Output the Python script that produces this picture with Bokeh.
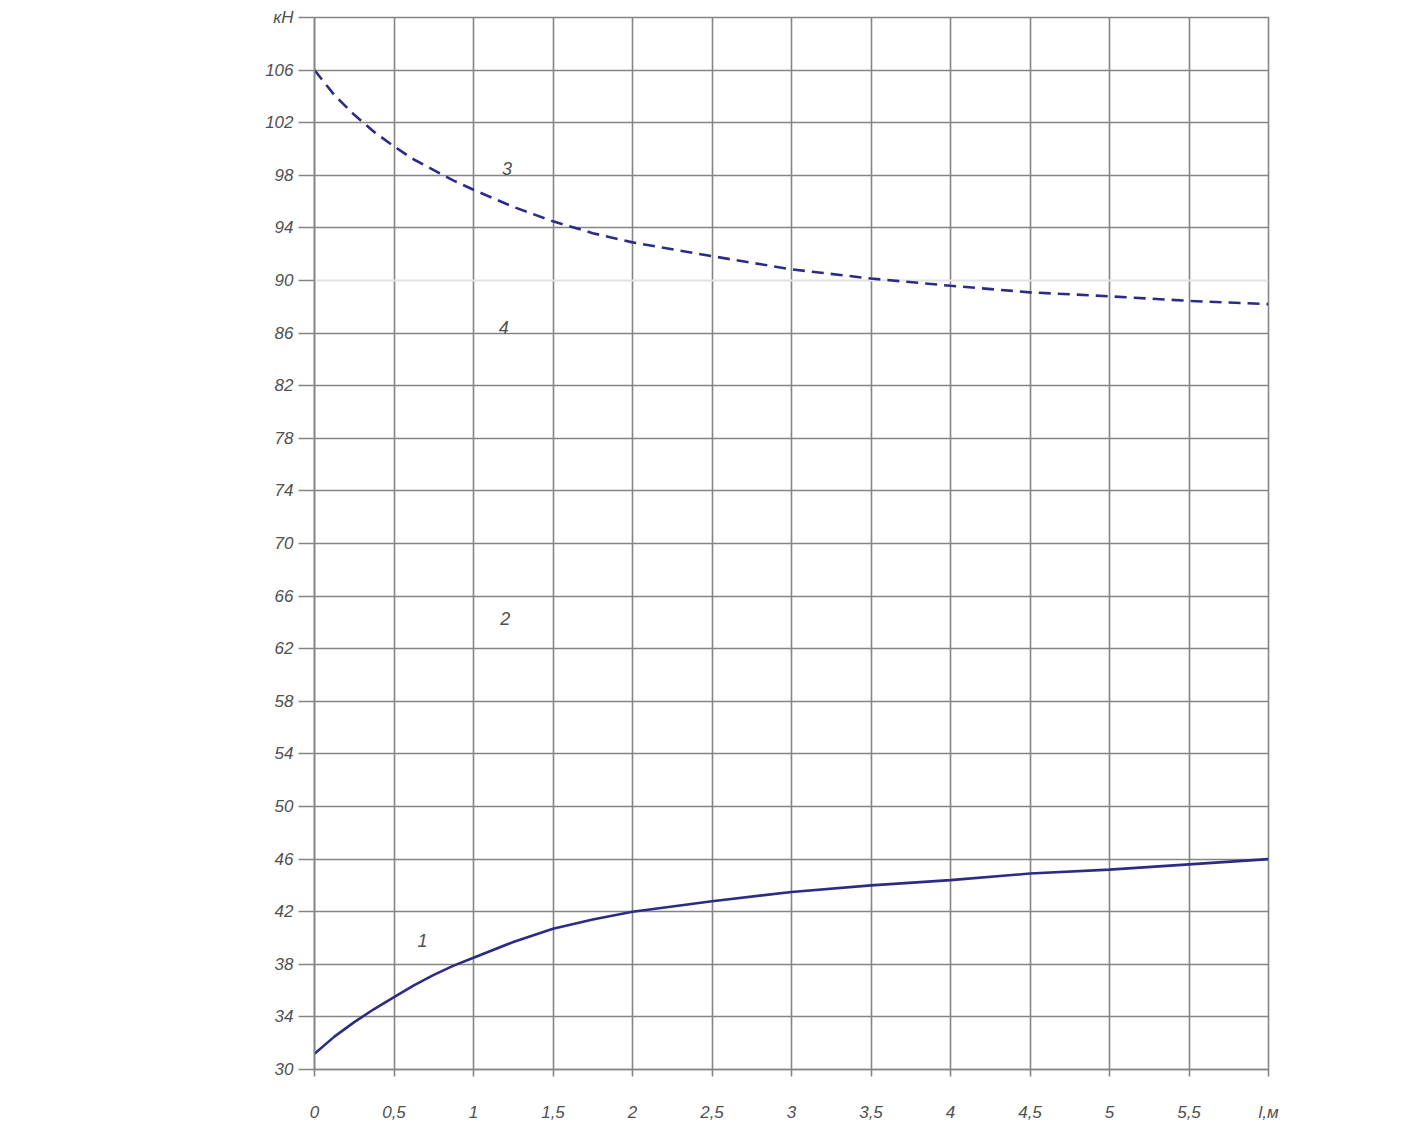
from bokeh.plotting import figure
from bokeh.models import Range1d, FixedTicker, Grid, Label
from bokeh.embed import file_html
from bokeh.resources import INLINE

# ---- data ----
x_vals = [0, 0.125, 0.25, 0.375, 0.5, 0.625, 0.75, 0.875, 1, 1.25, 1.5, 1.75, 2,
          2.5, 3, 3.5, 4, 4.5, 5, 5.5, 6]
curve1 = [31.2, 32.5, 33.6, 34.6, 35.5, 36.4, 37.2, 37.9, 38.5, 39.7, 40.7, 41.4, 42.0,
          42.8, 43.5, 44.0, 44.4, 44.9, 45.2, 45.6, 46.0]
curve3 = [106.0, 104.1, 102.6, 101.3, 100.2, 99.2, 98.4, 97.6, 96.9, 95.6, 94.5, 93.6, 92.9,
          91.85, 90.85, 90.15, 89.6, 89.1, 88.8, 88.45, 88.2]

x_ticks = [0, 0.5, 1, 1.5, 2, 2.5, 3, 3.5, 4, 4.5, 5, 5.5, 6]
x_tick_labels = ["0", "0,5", "1", "1,5", "2", "2,5", "3", "3,5", "4", "4,5", "5", "5,5", "l,м"]
y_ticks = [30, 34, 38, 42, 46, 50, 54, 58, 62, 66, 70, 74, 78, 82, 86, 90, 94, 98, 102, 106, 110]
y_tick_labels = ["30", "34", "38", "42", "46", "50", "54", "58", "62", "66", "70", "74", "78",
                 "82", "86", "90", "94", "98", "102", "106", "кН"]

curve_names = ["1", "2", "3", "4"]
name_x = [0.68, 1.20, 1.21, 1.19]
name_y = [39.8, 64.3, 98.5, 86.4]

GRID = "#858585"
TXT = "#505050"
LINE = "#2c2c86"
FONT = "Liberation Sans"

p = figure(width=1406, height=1128, output_backend="svg", toolbar_location=None,
           x_range=Range1d(0, 6), y_range=Range1d(30, 110),
           min_border_left=314, min_border_right=138, min_border_top=17, min_border_bottom=59)
p.background_fill_color = "white"
p.border_fill_color = "white"
p.outline_line_color = GRID
p.outline_line_width = 1.6

# axes
p.xaxis.ticker = FixedTicker(ticks=x_ticks)
p.xaxis.major_label_overrides = {t: l for t, l in zip(x_ticks, x_tick_labels)}
p.yaxis.ticker = FixedTicker(ticks=y_ticks)
p.yaxis.major_label_overrides = {t: l for t, l in zip(y_ticks, y_tick_labels)}
for ax in (p.xaxis, p.yaxis):
    ax.axis_line_color = GRID
    ax.axis_line_width = 1.6
    ax.major_tick_line_color = GRID
    ax.major_tick_line_width = 1.6
    ax.minor_tick_line_color = None
    ax.major_tick_in = 0
    ax.major_label_text_font = FONT
    ax.major_label_text_font_style = "italic"
    ax.major_label_text_color = TXT
    ax.major_label_text_font_size = "17px"
p.xaxis.major_tick_out = 7
p.xaxis.major_label_standoff = 26
p.yaxis.major_tick_out = 16
p.yaxis.major_label_standoff = 5

# grids
p.xgrid.ticker = FixedTicker(ticks=x_ticks)
p.ygrid.ticker = FixedTicker(ticks=[t for t in y_ticks if t != 90])
for g in (p.xgrid, p.ygrid):
    g.grid_line_color = GRID
    g.grid_line_width = 1.6
light = Grid(dimension=1, ticker=FixedTicker(ticks=[90]), grid_line_color="#e2e2e2", grid_line_width=2)
p.add_layout(light)

# curves
p.line(x_vals, curve1, line_color=LINE, line_width=2.6)
p.line(x_vals, curve3, line_color=LINE, line_width=2.6, line_dash="12 7")

# curve numbers
for n, xx, yy in zip(curve_names, name_x, name_y):
    p.add_layout(Label(x=xx, y=yy, text=n, text_font=FONT, text_font_style="italic",
                       text_color=TXT, text_font_size="18px", text_align="center",
                       text_baseline="middle"))

open("out.html", "w").write(file_html(p, INLINE))
